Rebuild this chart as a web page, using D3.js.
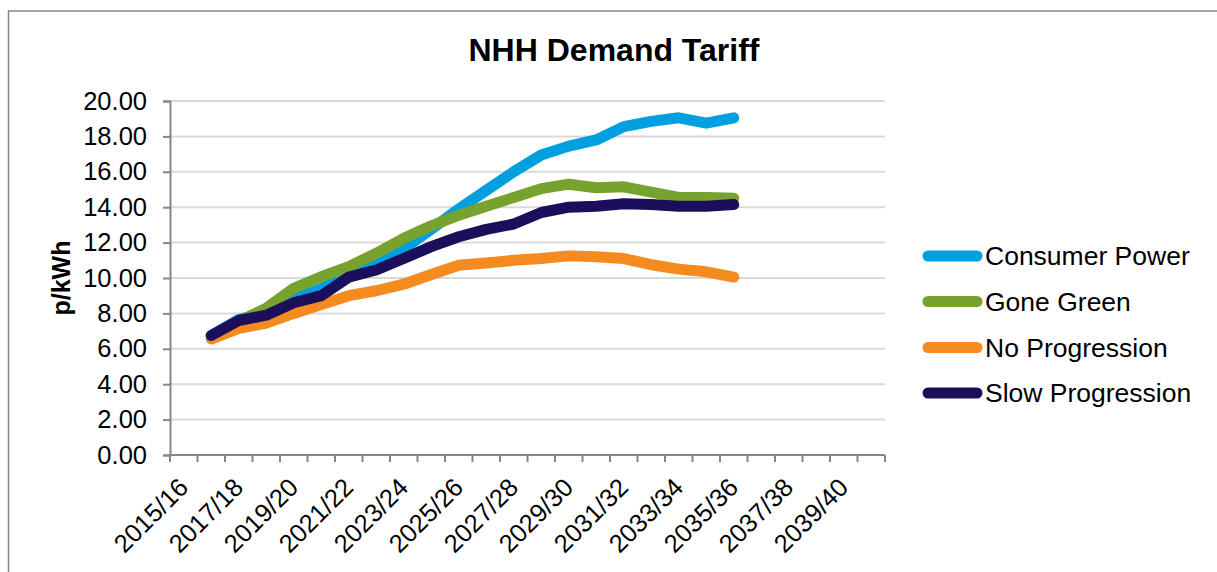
<!DOCTYPE html>
<html>
<head>
<meta charset="utf-8">
<script src="https://cdn.jsdelivr.net/npm/d3@7"></script>
<style>
  html, body { margin: 0; padding: 0; background: #fff; }
  svg { display: block; font-family: "Liberation Sans", Arial, sans-serif; }
</style>
</head>
<body>
<svg id="chart" width="1217" height="572"></svg>
<script>
// Financial years on the category axis
const categories = [
  "2015/16","2016/17","2017/18","2018/19","2019/20","2020/21","2021/22",
  "2022/23","2023/24","2024/25","2025/26","2026/27","2027/28","2028/29",
  "2029/30","2030/31","2031/32","2032/33","2033/34","2034/35","2035/36",
  "2036/37","2037/38","2038/39","2039/40","2040/41"
];
// Years that carry values (2016/17 to 2035/36)
const dataYears = categories.slice(1, 21);

// Tariff in p/kWh per scenario
const consumerPower = [6.75, 7.65, 8.05, 8.8, 9.4, 10.2, 10.85, 11.65, 12.75, 13.9,
                       14.95, 16.0, 16.95, 17.45, 17.8, 18.55, 18.85, 19.05, 18.75, 19.05];
const goneGreen = [6.72, 7.55, 8.3, 9.42, 10.07, 10.64, 11.4, 12.24, 12.95, 13.55,
                   14.05, 14.55, 15.05, 15.3, 15.1, 15.15, 14.85, 14.55, 14.55, 14.5];
const noProgression = [6.55, 7.15, 7.45, 8.0, 8.5, 9.0, 9.28, 9.65, 10.2, 10.72,
                       10.85, 11.0, 11.1, 11.25, 11.2, 11.1, 10.75, 10.5, 10.35, 10.05];
const slowProgression = [6.75, 7.6, 7.9, 8.6, 9.0, 10.05, 10.45, 11.1, 11.77, 12.33,
                         12.75, 13.05, 13.7, 14.0, 14.05, 14.2, 14.15, 14.05, 14.05, 14.15];

const seriesNames = ["Consumer Power", "Gone Green", "No Progression", "Slow Progression"];
const seriesColors = ["#009fdf", "#77a22d", "#f58b1f", "#1b0f5c"];
const seriesValues = [consumerPower, goneGreen, noProgression, slowProgression];

const yTicks = [0, 2, 4, 6, 8, 10, 12, 14, 16, 18, 20];

const svg = d3.select("#chart");
const font = "'Liberation Sans', Arial, sans-serif";

// Outer chart frame
svg.append("rect")
  .attr("x", 8.5).attr("y", 11)
  .attr("width", 1230).attr("height", 600)
  .attr("fill", "#fff")
  .attr("stroke", "#868686").attr("stroke-width", 1.5);

const plot = { left: 170, right: 885, top: 101, bottom: 455 };

const x = d3.scaleBand().domain(categories).range([plot.left, plot.right]).padding(0);
const y = d3.scaleLinear().domain([0, 20]).range([plot.bottom, plot.top]);
const cx = c => x(c) + x.bandwidth() / 2;

// Horizontal gridlines
svg.append("g")
  .selectAll("line")
  .data(yTicks.filter(t => t > 0))
  .join("line")
  .attr("x1", plot.left).attr("x2", plot.right)
  .attr("y1", d => y(d)).attr("y2", d => y(d))
  .attr("stroke", "#d9d9d9").attr("stroke-width", 2);

// Y axis
const yAxis = svg.append("g")
  .attr("transform", `translate(${plot.left},0)`)
  .call(d3.axisLeft(y).tickValues(yTicks).tickFormat(d3.format(".2f")).tickSize(7).tickPadding(16));
yAxis.select(".domain").attr("stroke", "#868686").attr("stroke-width", 2);
yAxis.selectAll(".tick line").attr("stroke", "#868686").attr("stroke-width", 2);
yAxis.selectAll(".tick text")
  .attr("font-family", font).attr("font-size", 25.5).attr("fill", "#000");

// X axis: line, ticks at category boundaries, every second label
const xAxis = svg.append("g");
xAxis.append("line")
  .attr("x1", plot.left).attr("x2", plot.right)
  .attr("y1", plot.bottom).attr("y2", plot.bottom)
  .attr("stroke", "#868686").attr("stroke-width", 2);
const boundaries = categories.map(c => x(c)).concat([x.range()[1]]);
xAxis.selectAll("line.tick")
  .data(boundaries)
  .join("line")
  .attr("class", "tick")
  .attr("x1", d => d).attr("x2", d => d)
  .attr("y1", plot.bottom).attr("y2", plot.bottom + 7)
  .attr("stroke", "#868686").attr("stroke-width", 2);
xAxis.selectAll("text")
  .data(categories.filter((c, i) => i % 2 === 0))
  .join("text")
  .attr("transform", d => `translate(${cx(d) + 6},${plot.bottom + 34}) rotate(-45)`)
  .attr("text-anchor", "end")
  .attr("font-family", font).attr("font-size", 25.5).attr("fill", "#000")
  .text(d => d);

// Series lines (later series drawn on top)
const line = d3.line()
  .x((d, i) => cx(dataYears[i]))
  .y(d => y(d));

svg.append("g")
  .selectAll("path")
  .data(seriesValues)
  .join("path")
  .attr("d", d => line(d))
  .attr("fill", "none")
  .attr("stroke", (d, i) => seriesColors[i])
  .attr("stroke-width", 11)
  .attr("stroke-linecap", "round")
  .attr("stroke-linejoin", "round");

// Title
svg.append("text")
  .attr("x", 614).attr("y", 61)
  .attr("text-anchor", "middle")
  .attr("font-family", font).attr("font-size", 32).attr("font-weight", "bold")
  .text("NHH Demand Tariff");

// Y axis title
svg.append("text")
  .attr("transform", "translate(70,278) rotate(-90)")
  .attr("text-anchor", "middle")
  .attr("font-family", font).attr("font-size", 25).attr("font-weight", "bold")
  .text("p/kWh");

// Legend
const legend = svg.append("g");
const legendY = [256, 301.5, 347.5, 393];
seriesNames.forEach((name, i) => {
  legend.append("line")
    .attr("x1", 928).attr("x2", 977)
    .attr("y1", legendY[i]).attr("y2", legendY[i])
    .attr("stroke", seriesColors[i]).attr("stroke-width", 11)
    .attr("stroke-linecap", "round");
  legend.append("text")
    .attr("x", 985).attr("y", legendY[i] + 9)
    .attr("font-family", font).attr("font-size", 26.5).attr("fill", "#000")
    .text(name);
});
</script>
</body>
</html>
